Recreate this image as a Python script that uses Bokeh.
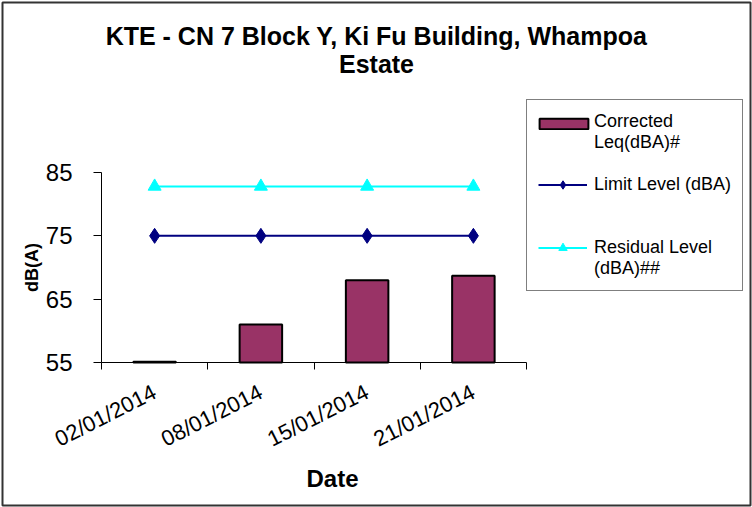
import math
from bokeh.plotting import figure
from bokeh.models import (Range1d, FixedTicker, Legend, LegendItem, Label,
                          ColumnDataSource, BoxAnnotation)
from bokeh.embed import file_html
from bokeh.resources import INLINE

# ---- data -----------------------------------------------------------
dates = ["02/01/2014", "08/01/2014", "15/01/2014", "21/01/2014"]
corrected_leq = [55.1, 61.0, 68.0, 68.7]
limit_level = [75, 75, 75, 75]
residual_level = [82.8, 82.8, 82.8, 82.8]
y_ticks = [55, 65, 75, 85]

title_line1 = "KTE - CN 7 Block Y, Ki Fu Building, Whampoa"
title_line2 = "Estate"
x_title = "Date"
y_title = "dB(A)"
leg_corrected = ["Corrected", "Leq(dBA)#"]
leg_limit = "Limit Level (dBA)"
leg_residual = ["Residual Level", "(dBA)##"]

FONT = "Liberation Sans"

# ---- layout geometry (pixels) ----------------------------------------
W, H = 752, 507
AX_LEFT, AX_BOTTOM = 101, 362    # where the axes cross, from top-left
AXIS_W, AXIS_H = 425, 190        # drawn length of x / y axis
px_x = AXIS_W / len(dates)
px_y = AXIS_H / (y_ticks[-1] - y_ticks[0])
x_range = Range1d(-AX_LEFT / px_x, (W - AX_LEFT) / px_x)
y_range = Range1d(y_ticks[0] - (H - AX_BOTTOM) / px_y,
                  y_ticks[0] + AX_BOTTOM / px_y)

x_pos = [i + 0.5 for i in range(len(dates))]
src = ColumnDataSource(dict(x=x_pos, date=dates, leq=corrected_leq,
                            limit=limit_level, resid=residual_level))

p = figure(width=W, height=H, output_backend="svg", toolbar_location=None,
           tools="", x_range=x_range, y_range=y_range, min_border=0)
p.outline_line_color = None
p.grid.visible = False
p.background_fill_color = "white"
p.border_fill_color = "white"

# chart-area border
p.add_layout(BoxAnnotation(left=2, right=W - 2, bottom=2, top=H - 2,
                           left_units="screen", right_units="screen",
                           bottom_units="screen", top_units="screen",
                           fill_color=None, fill_alpha=0,
                           line_color="#333333", line_width=2, line_alpha=1))

bars = p.vbar(x="x", top="leq", bottom=y_ticks[0], width=0.4, source=src,
              fill_color="#993366", line_color="black", line_width=2)
lim_line = p.line("x", "limit", source=src, line_color="#000080", line_width=2)
lim_pts = p.scatter("x", "limit", source=src, marker="diamond", size=15,
                    fill_color="#000080", line_color="#000080")
res_line = p.line("x", "resid", source=src, line_color="#00FFFF", line_width=2)
res_pts = p.scatter("x", "resid", source=src, marker="triangle", size=13,
                    fill_color="#00FFFF", line_color="#00FFFF")

# ---- x axis ---------------------------------------------------------
xa = p.xaxis[0]
xa.fixed_location = y_ticks[0]
xa.bounds = (0, len(dates))
xa.ticker = FixedTicker(ticks=x_pos, minor_ticks=list(range(len(dates) + 1)))
xa.major_label_overrides = {x: d for x, d in zip(x_pos, dates)}
xa.major_tick_out = 0
xa.major_tick_in = 0
xa.minor_tick_out = 7
xa.minor_tick_in = 0
xa.minor_tick_line_color = "black"
xa.major_label_orientation = 0.47
xa.major_label_text_font = FONT
xa.major_label_text_font_size = "22px"
xa.major_label_text_color = "black"
xa.major_label_standoff = 21
xa.axis_line_color = "black"

# ---- y axis ---------------------------------------------------------
ya = p.yaxis[0]
ya.fixed_location = 0
ya.bounds = (y_ticks[0], y_ticks[-1])
ya.ticker = FixedTicker(ticks=y_ticks)
ya.major_tick_out = 8
ya.major_tick_in = 0
ya.minor_tick_line_color = None
ya.major_tick_line_color = "black"
ya.major_label_text_font = FONT
ya.major_label_text_font_size = "24px"
ya.major_label_text_color = "black"
ya.major_label_text_align = "right"
ya.major_label_standoff = 21
ya.axis_line_color = "black"

# ---- titles (screen px from bottom-left of the canvas) ---------------
def add_text(txt, x, y, size, angle=0.0):
    p.add_layout(Label(x=x, y=y, x_units="screen", y_units="screen",
                       text=txt, angle=angle, text_align="center",
                       text_baseline="middle", text_font=FONT,
                       text_font_size=size, text_font_style="bold",
                       text_color="black"))

add_text(title_line1, 376, H - 35, "25px")
add_text(title_line2, 376, H - 63, "25px")
add_text(x_title, 332, H - 478, "24px")
add_text(y_title, 31, H - 267, "18px", angle=math.pi / 2)

# ---- legend ---------------------------------------------------------
items = [
    LegendItem(label=leg_corrected[0], renderers=[]),
    LegendItem(label=leg_corrected[1], renderers=[]),
    LegendItem(label=" ", renderers=[]),
    LegendItem(label=leg_limit, renderers=[lim_line, lim_pts]),
    LegendItem(label=" ", renderers=[]),
    LegendItem(label=" ", renderers=[]),
    LegendItem(label=leg_residual[0], renderers=[res_line, res_pts]),
    LegendItem(label=leg_residual[1], renderers=[]),
]
leg = Legend(items=items, location=(526, H - 291), padding=11, spacing=0,
             label_height=21, glyph_height=21, glyph_width=49,
             label_standoff=7, label_text_font=FONT,
             label_text_font_size="18px", label_text_color="black",
             border_line_color="black", border_line_width=1,
             background_fill_color="white", background_fill_alpha=1,
             margin=0)
p.add_layout(leg)

leg_bar = Legend(items=[LegendItem(label=" ", renderers=[bars])],
                 location=(533, H - 130), padding=0, spacing=0,
                 label_height=1, glyph_height=13, glyph_width=61,
                 label_standoff=0, label_text_font_size="1px",
                 border_line_color=None, background_fill_alpha=0, margin=0)
p.add_layout(leg_bar)

open("out.html", "w").write(file_html(p, INLINE))
